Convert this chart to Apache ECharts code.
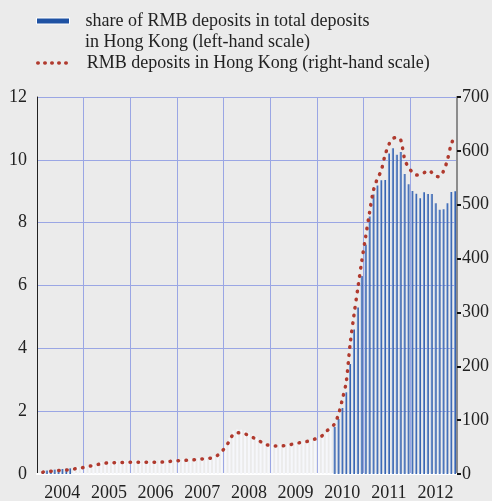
<!DOCTYPE html>
<html>
<head>
<meta charset="utf-8">
<script src="https://cdn.jsdelivr.net/npm/echarts@6/dist/echarts.min.js"></script>
<style>
  html, body { margin: 0; padding: 0; background: #ebebeb; }
  #chart { width: 492px; height: 501px; }
</style>
</head>
<body>
<div id="chart"></div>
<script>
// monthly, Jan 2004 .. Dec 2012
var years = ['2004', '2005', '2006', '2007', '2008', '2009', '2010', '2011', '2012'];

// share of RMB deposits in total deposits (%), left-hand scale
var shareValues = [
  null, 0.08, 0.11, 0.12, 0.14, 0.15, 0.16, 0.17, 0.18, 0.19, 0.22, 0.24,
  0.26, 0.29, 0.31, 0.35, 0.38, 0.40, 0.42, 0.42, 0.42, 0.43, 0.43, 0.43,
  0.43, 0.43, 0.43, 0.43, 0.43, 0.43, 0.43, 0.43, 0.43, 0.44, 0.45, 0.46,
  0.47, 0.48, 0.48, 0.49, 0.50, 0.51, 0.52, 0.53, 0.54, 0.58, 0.65, 0.78,
  0.93, 1.15, 1.38, 1.42, 1.41, 1.38, 1.32, 1.26, 1.17, 1.10, 1.00, 0.97,
  0.95, 0.94, 0.94, 0.95, 0.96, 0.98, 1.00, 1.02, 1.03, 1.05, 1.08, 1.12,
  1.16, 1.22, 1.35, 1.45, 1.50, 1.75, 2.10, 2.60, 3.50, 4.60, 5.30, 6.30,
  7.30, 8.20, 8.90, 9.18, 9.35, 9.36, 10.20, 10.37, 10.16, 10.25, 9.55, 9.22,
  9.01, 8.92, 8.78, 8.97, 8.91, 8.91, 8.62, 8.41, 8.43, 8.62, 8.98, 9.00
];

// RMB deposits in Hong Kong (bn), right-hand scale
var depositValues = [
  null, 3.5, 4.5, 5.0, 5.8, 6.5, 7.0, 7.5, 8.0, 9.3, 10.6, 11.6,
  12.5, 14.5, 15.5, 17.5, 19, 20, 21, 21, 21.2, 21.4, 21.5, 21.6,
  21.7, 21.8, 21.8, 21.8, 21.9, 22, 22, 22, 22.2, 22.8, 23.6, 24.2,
  24.8, 25.2, 25.5, 26, 26.6, 27.3, 28, 28.6, 29.2, 31.5, 35, 42,
  50, 62, 74, 76.5, 76, 74.5, 71, 68, 63, 60, 55, 53.5,
  52.5, 52, 52, 52.5, 53.5, 55, 56.5, 58, 59, 60.5, 62.5, 65,
  67.5, 72, 80, 85, 93, 110, 138, 170, 240, 295, 345, 395,
  440, 485, 526, 548, 563, 592, 612, 623, 625, 621, 586, 569,
  561, 555, 556, 559, 564, 560, 553, 552, 562, 582, 612, 628
];

var leftTicks = [0, 12, 2];
var rightTicks = [0, 700, 100];

var months = [];
years.forEach(function (y) {
    for (var m = 1; m <= 12; m++) months.push(y + '-' + m);
});

var barName = 'share of RMB deposits in total deposits';
var lineName = 'RMB deposits in Hong Kong (right-hand scale)';
var font = '"Liberation Serif", "DejaVu Serif", serif';

var blueGrad = new echarts.graphic.LinearGradient(0, 0, 1, 0, [
    { offset: 0, color: '#8eaee0' },
    { offset: 1, color: '#17479c' }
]);

var chart = echarts.init(document.getElementById('chart'));
chart.setOption({
    backgroundColor: '#ebebeb',
    animation: false,
    legend: [
        {
            data: [barName],
            left: 31, top: 7,
            itemWidth: 33, itemHeight: 6,
            icon: 'rect',
            itemStyle: { color: '#1f52a3', borderColor: '#ffffff', borderWidth: 1 },
            textStyle: { fontFamily: font, fontSize: 18, color: '#222', padding: [0, 0, 0, 11] }
        },
        {
            data: [lineName],
            left: 31, top: 49,
            itemWidth: 33, itemHeight: 6,
            itemStyle: { opacity: 0 },
            lineStyle: { color: '#b03a2e', width: 3.5, type: [0.5, 6.5], cap: 'round' },
            textStyle: { fontFamily: font, fontSize: 18, color: '#222', padding: [0, 0, 0, 11] }
        }
    ],
    graphic: [{
        type: 'text', left: 85, top: 33,
        style: { text: 'in Hong Kong (left-hand scale)', font: '18px ' + font, fill: '#222' }
    }],
    grid: { left: 37, right: 35, top: 97, bottom: 27, outerBoundsMode: 'none' },
    xAxis: {
        type: 'category',
        data: months,
        axisLine: { lineStyle: { color: '#ffffff', width: 2 } },
        axisTick: {
            interval: function (i) { return i % 12 === 0; },
            length: 6,
            lineStyle: { color: '#999', width: 2 }
        },
        axisLabel: {
            interval: function (i) { return i % 12 === 6; },
            formatter: function (v) { return v.split('-')[0]; },
            fontFamily: font, fontSize: 18, color: '#222', margin: 10
        },
        splitLine: {
            show: true,
            interval: function (i) { return i % 12 === 0 && i > 0; },
            lineStyle: { color: '#9aa6e4', width: 1 }
        }
    },
    yAxis: [
        {
            type: 'value',
            min: leftTicks[0], max: leftTicks[1], interval: leftTicks[2],
            axisLine: { show: true, lineStyle: { color: '#222', width: 1 } },
            axisTick: { show: false },
            axisLabel: { fontFamily: font, fontSize: 18, color: '#222', margin: 10 },
            splitLine: { lineStyle: { color: '#9aa6e4', width: 1 } }
        },
        {
            type: 'value',
            position: 'right',
            min: rightTicks[0], max: rightTicks[1], interval: rightTicks[2],
            axisLine: { show: true, lineStyle: { color: '#8c8c8c', width: 2 } },
            axisTick: { show: true, length: 4, lineStyle: { color: '#111', width: 2 } },
            axisLabel: { fontFamily: font, fontSize: 18, color: '#222', margin: 5 },
            splitLine: { show: false }
        }
    ],
    series: [
        {
            name: barName,
            type: 'bar',
            yAxisIndex: 0,
            data: shareValues,
            barWidth: 2,
            itemStyle: {
                color: function (p) {
                    return (p.dataIndex <= 8 || p.dataIndex >= 76) ? blueGrad : '#f6f7fb';
                }
            }
        },
        {
            name: lineName,
            type: 'line',
            yAxisIndex: 1,
            data: depositValues,
            smooth: 0.3,
            symbol: 'none',
            lineStyle: { color: '#b03a2e', width: 3.5, type: [0.5, 7.5], cap: 'round' },
            z: 5
        }
    ]
});
</script>
</body>
</html>
